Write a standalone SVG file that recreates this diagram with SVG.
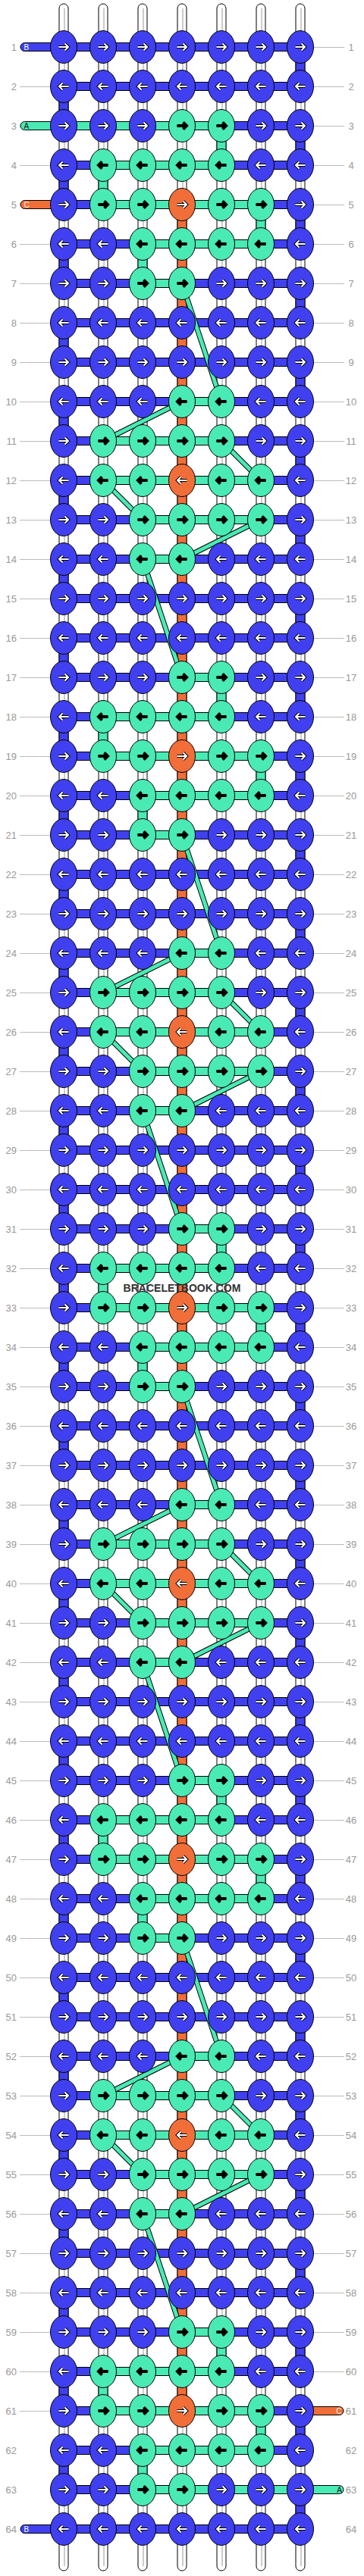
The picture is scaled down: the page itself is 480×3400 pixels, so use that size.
<svg xmlns="http://www.w3.org/2000/svg" width="480" height="3400" viewBox="0 0 480 3400">
<style>
.b{fill:#4040f0;color:#fff}
.t{fill:#4aeab4;color:#000}
.o{fill:#f26e38;color:#fff}
.ln{fill:none;stroke:#bbb;stroke-width:1}
.st{fill:#fff;stroke:#000;stroke-width:1}
.sg{fill:none;stroke:#ccc;stroke-width:2}
.bar{stroke:#000;stroke-width:1}
.ll,.lr{font-family:"Liberation Sans",Arial,sans-serif;font-size:13px;fill:#999}
.ll{text-anchor:end}
.lr{text-anchor:middle}
.pl{font-family:"Liberation Sans",Arial,sans-serif;font-size:10px}
.wm{font-family:"Liberation Sans",Arial,sans-serif;font-size:14px;font-weight:bold;fill:#333}
</style>
<defs>
<g id="R"><ellipse rx="17.5" ry="21.5" stroke="#000" stroke-width="1"/><path d="M-6.5,0H6M1.5,-4.5L6,0L1.5,4.5" fill="none" stroke="#000" stroke-width="4"/><path d="M-6.5,0H6M1.5,-4.5L6,0L1.5,4.5" fill="none" stroke="currentColor" stroke-width="2"/></g>
<g id="L"><ellipse rx="17.5" ry="21.5" stroke="#000" stroke-width="1"/><path d="M6.5,0H-6M-1.5,-4.5L-6,0L-1.5,4.5" fill="none" stroke="#000" stroke-width="4"/><path d="M6.5,0H-6M-1.5,-4.5L-6,0L-1.5,4.5" fill="none" stroke="currentColor" stroke-width="2"/></g>
<path id="D" d="M240,374L292,530M240,530L136,582M292,582L344,634M136,634L188,686M344,686L240,738M188,738L240,894M240,1102L292,1258M240,1258L136,1310M292,1310L344,1362M136,1362L188,1414M344,1414L240,1466M188,1466L240,1622M240,1830L292,1986M240,1986L136,2038M292,2038L344,2090M136,2090L188,2142M344,2142L240,2194M188,2194L240,2350M240,2558L292,2714M240,2714L136,2766M292,2766L344,2818M136,2818L188,2870M344,2870L240,2922M188,2922L240,3078"/>
</defs>
<path class="ln" d="M26,62.5h428m-428,52h428m-428,52h428m-428,52h428m-428,52h428m-428,52h428m-428,52h428m-428,52h428m-428,52h428m-428,52h428m-428,52h428m-428,52h428m-428,52h428m-428,52h428m-428,52h428m-428,52h428m-428,52h428m-428,52h428m-428,52h428m-428,52h428m-428,52h428m-428,52h428m-428,52h428m-428,52h428m-428,52h428m-428,52h428m-428,52h428m-428,52h428m-428,52h428m-428,52h428m-428,52h428m-428,52h428m-428,52h428m-428,52h428m-428,52h428m-428,52h428m-428,52h428m-428,52h428m-428,52h428m-428,52h428m-428,52h428m-428,52h428m-428,52h428m-428,52h428m-428,52h428m-428,52h428m-428,52h428m-428,52h428m-428,52h428m-428,52h428m-428,52h428m-428,52h428m-428,52h428m-428,52h428m-428,52h428m-428,52h428m-428,52h428m-428,52h428m-428,52h428m-428,52h428m-428,52h428"/>
<g id="strands">
<rect class="st" x="78" y="5" width="12" height="3388" rx="6"/>
<rect class="st" x="130" y="5" width="12" height="3388" rx="6"/>
<rect class="st" x="182" y="5" width="12" height="3388" rx="6"/>
<rect class="st" x="234" y="5" width="12" height="3388" rx="6"/>
<rect class="st" x="286" y="5" width="12" height="3388" rx="6"/>
<rect class="st" x="338" y="5" width="12" height="3388" rx="6"/>
<rect class="st" x="390" y="5" width="12" height="3388" rx="6"/>
<path class="sg" d="M85,11V3387M137,11V3387M189,11V3387M241,11V3387M293,11V3387M345,11V3387M397,11V3387"/>
</g>
<g id="connectors">
<path class="bar b" d="M78,128h12v24h-12zm0,104h12v24h-12zm0,104h12v24h-12zm0,104h12v24h-12zm0,104h12v24h-12zm0,104h12v24h-12zm0,104h12v24h-12zm0,104h12v24h-12zm0,104h12v24h-12zm0,104h12v24h-12zm0,104h12v24h-12zm0,104h12v24h-12zm0,104h12v24h-12zm0,104h12v24h-12zm0,104h12v24h-12zm0,104h12v24h-12zm0,104h12v24h-12zm0,104h12v24h-12zm0,104h12v24h-12zm0,104h12v24h-12zm0,104h12v24h-12zm0,104h12v24h-12zm0,104h12v24h-12zm0,104h12v24h-12zm0,104h12v24h-12zm0,104h12v24h-12zm0,104h12v24h-12zm0,104h12v24h-12zm0,104h12v24h-12zm0,104h12v24h-12zm0,104h12v24h-12z"/>
<path class="bar b" d="M390,76h12v24h-12zm0,104h12v24h-12zm0,104h12v24h-12zm0,104h12v24h-12zm0,104h12v24h-12zm0,104h12v24h-12zm0,104h12v24h-12zm0,104h12v24h-12zm0,104h12v24h-12zm0,104h12v24h-12zm0,104h12v24h-12zm0,104h12v24h-12zm0,104h12v24h-12zm0,104h12v24h-12zm0,104h12v24h-12zm0,104h12v24h-12zm0,104h12v24h-12zm0,104h12v24h-12zm0,104h12v24h-12zm0,104h12v24h-12zm0,104h12v24h-12zm0,104h12v24h-12zm0,104h12v24h-12zm0,104h12v24h-12zm0,104h12v24h-12zm0,104h12v24h-12zm0,104h12v24h-12zm0,104h12v24h-12zm0,104h12v24h-12zm0,104h12v24h-12zm0,104h12v24h-12zm0,104h12v24h-12z"/>
<rect class="bar o" x="234" y="270" width="12" height="2912"/>
<path class="bar t" d="M286,180h12v24h-12zM130,232h12v24h-12zM338,284h12v24h-12zM182,336h12v24h-12zM286,908h12v24h-12zM130,960h12v24h-12zM338,1012h12v24h-12zM182,1064h12v24h-12zM286,1636h12v24h-12zM130,1688h12v24h-12zM338,1740h12v24h-12zM182,1792h12v24h-12zM286,2364h12v24h-12zM130,2416h12v24h-12zM338,2468h12v24h-12zM182,2520h12v24h-12zM286,3092h12v24h-12zM130,3144h12v24h-12zM338,3196h12v24h-12zM182,3248h12v24h-12z"/>
<path class="bar b" d="M84,56.5h312v11h-312zm0,52h312v11h-312zm0,52h312v11h-312zm0,52h312v11h-312zm0,52h312v11h-312zm0,52h312v11h-312zm0,52h312v11h-312zm0,52h312v11h-312zm0,52h312v11h-312zm0,52h312v11h-312zm0,52h312v11h-312zm0,52h312v11h-312zm0,52h312v11h-312zm0,52h312v11h-312zm0,52h312v11h-312zm0,52h312v11h-312zm0,52h312v11h-312zm0,52h312v11h-312zm0,52h312v11h-312zm0,52h312v11h-312zm0,52h312v11h-312zm0,52h312v11h-312zm0,52h312v11h-312zm0,52h312v11h-312zm0,52h312v11h-312zm0,52h312v11h-312zm0,52h312v11h-312zm0,52h312v11h-312zm0,52h312v11h-312zm0,52h312v11h-312zm0,52h312v11h-312zm0,52h312v11h-312zm0,52h312v11h-312zm0,52h312v11h-312zm0,52h312v11h-312zm0,52h312v11h-312zm0,52h312v11h-312zm0,52h312v11h-312zm0,52h312v11h-312zm0,52h312v11h-312zm0,52h312v11h-312zm0,52h312v11h-312zm0,52h312v11h-312zm0,52h312v11h-312zm0,52h312v11h-312zm0,52h312v11h-312zm0,52h312v11h-312zm0,52h312v11h-312zm0,52h312v11h-312zm0,52h312v11h-312zm0,52h312v11h-312zm0,52h312v11h-312zm0,52h312v11h-312zm0,52h312v11h-312zm0,52h312v11h-312zm0,52h312v11h-312zm0,52h312v11h-312zm0,52h312v11h-312zm0,52h312v11h-312zm0,52h312v11h-312zm0,52h312v11h-312zm0,52h312v11h-312zm0,52h312v11h-312zm0,52h312v11h-312z"/>
<path class="bar t" d="M84,160.5h208v11h-208zM136,212.5h156v11h-156zM136,264.5h208v11h-208zM188,316.5h156v11h-156zM188,368.5h52v11h-52zM240,524.5h52v11h-52zM136,576.5h156v11h-156zM136,628.5h208v11h-208zM188,680.5h156v11h-156zM188,732.5h52v11h-52zM240,888.5h52v11h-52zM136,940.5h156v11h-156zM136,992.5h208v11h-208zM188,1044.5h156v11h-156zM188,1096.5h52v11h-52zM240,1252.5h52v11h-52zM136,1304.5h156v11h-156zM136,1356.5h208v11h-208zM188,1408.5h156v11h-156zM188,1460.5h52v11h-52zM240,1616.5h52v11h-52zM136,1668.5h156v11h-156zM136,1720.5h208v11h-208zM188,1772.5h156v11h-156zM188,1824.5h52v11h-52zM240,1980.5h52v11h-52zM136,2032.5h156v11h-156zM136,2084.5h208v11h-208zM188,2136.5h156v11h-156zM188,2188.5h52v11h-52zM240,2344.5h52v11h-52zM136,2396.5h156v11h-156zM136,2448.5h208v11h-208zM188,2500.5h156v11h-156zM188,2552.5h52v11h-52zM240,2708.5h52v11h-52zM136,2760.5h156v11h-156zM136,2812.5h208v11h-208zM188,2864.5h156v11h-156zM188,2916.5h52v11h-52zM240,3072.5h52v11h-52zM136,3124.5h156v11h-156zM136,3176.5h208v11h-208zM188,3228.5h156v11h-156zM188,3280.5h208v11h-208z"/>
<rect class="bar b" x="27" y="56.5" width="62" height="11" rx="5.5"/>
<rect class="bar t" x="27" y="160.5" width="62" height="11" rx="5.5"/>
<rect class="bar o" x="27" y="264.5" width="62" height="11" rx="5.5"/>
<rect class="bar b" x="27" y="3332.5" width="62" height="11" rx="5.5"/>
<rect class="bar o" x="391" y="3176.5" width="62" height="11" rx="5.5"/>
<rect class="bar t" x="391" y="3280.5" width="62" height="11" rx="5.5"/>
<use href="#D" fill="none" stroke="#000" stroke-width="7"/>
<use href="#D" fill="none" stroke="#4aeab4" stroke-width="5"/>
</g>
<g id="r1" transform="translate(0,62)"><text class="ll" x="22" y="4.5">1</text><text class="lr" x="463" y="4.5">1</text><g id="n1-1" class="b"><use href="#R" x="84"/></g><g id="n1-2" class="b"><use href="#R" x="136"/></g><g id="n1-3" class="b"><use href="#R" x="188"/></g><g id="n1-4" class="b"><use href="#R" x="240"/></g><g id="n1-5" class="b"><use href="#R" x="292"/></g><g id="n1-6" class="b"><use href="#R" x="344"/></g><g id="n1-7" class="b"><use href="#R" x="396"/></g></g>
<g id="r2" transform="translate(0,114)"><text class="ll" x="22" y="4.5">2</text><text class="lr" x="463" y="4.5">2</text><g id="n2-1" class="b"><use href="#L" x="84"/></g><g id="n2-2" class="b"><use href="#L" x="136"/></g><g id="n2-3" class="b"><use href="#L" x="188"/></g><g id="n2-4" class="b"><use href="#L" x="240"/></g><g id="n2-5" class="b"><use href="#L" x="292"/></g><g id="n2-6" class="b"><use href="#L" x="344"/></g><g id="n2-7" class="b"><use href="#L" x="396"/></g></g>
<g id="r3" transform="translate(0,166)"><text class="ll" x="22" y="4.5">3</text><text class="lr" x="463" y="4.5">3</text><g id="n3-1" class="b"><use href="#R" x="84"/></g><g id="n3-2" class="b"><use href="#R" x="136"/></g><g id="n3-3" class="b"><use href="#R" x="188"/></g><g id="n3-4" class="t"><use href="#R" x="240"/></g><g id="n3-5" class="t"><use href="#R" x="292"/></g><g id="n3-6" class="b"><use href="#R" x="344"/></g><g id="n3-7" class="b"><use href="#R" x="396"/></g></g>
<g id="r4" transform="translate(0,218)"><text class="ll" x="22" y="4.5">4</text><text class="lr" x="463" y="4.5">4</text><g id="n4-1" class="b"><use href="#L" x="84"/></g><g id="n4-2" class="t"><use href="#L" x="136"/></g><g id="n4-3" class="t"><use href="#L" x="188"/></g><g id="n4-4" class="t"><use href="#L" x="240"/></g><g id="n4-5" class="t"><use href="#L" x="292"/></g><g id="n4-6" class="b"><use href="#L" x="344"/></g><g id="n4-7" class="b"><use href="#L" x="396"/></g></g>
<g id="r5" transform="translate(0,270)"><text class="ll" x="22" y="4.5">5</text><text class="lr" x="463" y="4.5">5</text><g id="n5-1" class="b"><use href="#R" x="84"/></g><g id="n5-2" class="t"><use href="#R" x="136"/></g><g id="n5-3" class="t"><use href="#R" x="188"/></g><g id="n5-4" class="o"><use href="#R" x="240"/></g><g id="n5-5" class="t"><use href="#R" x="292"/></g><g id="n5-6" class="t"><use href="#R" x="344"/></g><g id="n5-7" class="b"><use href="#R" x="396"/></g></g>
<g id="r6" transform="translate(0,322)"><text class="ll" x="22" y="4.5">6</text><text class="lr" x="463" y="4.5">6</text><g id="n6-1" class="b"><use href="#L" x="84"/></g><g id="n6-2" class="b"><use href="#L" x="136"/></g><g id="n6-3" class="t"><use href="#L" x="188"/></g><g id="n6-4" class="t"><use href="#L" x="240"/></g><g id="n6-5" class="t"><use href="#L" x="292"/></g><g id="n6-6" class="t"><use href="#L" x="344"/></g><g id="n6-7" class="b"><use href="#L" x="396"/></g></g>
<g id="r7" transform="translate(0,374)"><text class="ll" x="22" y="4.5">7</text><text class="lr" x="463" y="4.5">7</text><g id="n7-1" class="b"><use href="#R" x="84"/></g><g id="n7-2" class="b"><use href="#R" x="136"/></g><g id="n7-3" class="t"><use href="#R" x="188"/></g><g id="n7-4" class="t"><use href="#R" x="240"/></g><g id="n7-5" class="b"><use href="#R" x="292"/></g><g id="n7-6" class="b"><use href="#R" x="344"/></g><g id="n7-7" class="b"><use href="#R" x="396"/></g></g>
<g id="r8" transform="translate(0,426)"><text class="ll" x="22" y="4.5">8</text><text class="lr" x="463" y="4.5">8</text><g id="n8-1" class="b"><use href="#L" x="84"/></g><g id="n8-2" class="b"><use href="#L" x="136"/></g><g id="n8-3" class="b"><use href="#L" x="188"/></g><g id="n8-4" class="b"><use href="#L" x="240"/></g><g id="n8-5" class="b"><use href="#L" x="292"/></g><g id="n8-6" class="b"><use href="#L" x="344"/></g><g id="n8-7" class="b"><use href="#L" x="396"/></g></g>
<g id="r9" transform="translate(0,478)"><text class="ll" x="22" y="4.5">9</text><text class="lr" x="463" y="4.5">9</text><g id="n9-1" class="b"><use href="#R" x="84"/></g><g id="n9-2" class="b"><use href="#R" x="136"/></g><g id="n9-3" class="b"><use href="#R" x="188"/></g><g id="n9-4" class="b"><use href="#R" x="240"/></g><g id="n9-5" class="b"><use href="#R" x="292"/></g><g id="n9-6" class="b"><use href="#R" x="344"/></g><g id="n9-7" class="b"><use href="#R" x="396"/></g></g>
<g id="r10" transform="translate(0,530)"><text class="ll" x="22" y="4.5">10</text><text class="lr" x="463" y="4.5">10</text><g id="n10-1" class="b"><use href="#L" x="84"/></g><g id="n10-2" class="b"><use href="#L" x="136"/></g><g id="n10-3" class="b"><use href="#L" x="188"/></g><g id="n10-4" class="t"><use href="#L" x="240"/></g><g id="n10-5" class="t"><use href="#L" x="292"/></g><g id="n10-6" class="b"><use href="#L" x="344"/></g><g id="n10-7" class="b"><use href="#L" x="396"/></g></g>
<g id="r11" transform="translate(0,582)"><text class="ll" x="22" y="4.5">11</text><text class="lr" x="463" y="4.5">11</text><g id="n11-1" class="b"><use href="#R" x="84"/></g><g id="n11-2" class="t"><use href="#R" x="136"/></g><g id="n11-3" class="t"><use href="#R" x="188"/></g><g id="n11-4" class="t"><use href="#R" x="240"/></g><g id="n11-5" class="t"><use href="#R" x="292"/></g><g id="n11-6" class="b"><use href="#R" x="344"/></g><g id="n11-7" class="b"><use href="#R" x="396"/></g></g>
<g id="r12" transform="translate(0,634)"><text class="ll" x="22" y="4.5">12</text><text class="lr" x="463" y="4.5">12</text><g id="n12-1" class="b"><use href="#L" x="84"/></g><g id="n12-2" class="t"><use href="#L" x="136"/></g><g id="n12-3" class="t"><use href="#L" x="188"/></g><g id="n12-4" class="o"><use href="#L" x="240"/></g><g id="n12-5" class="t"><use href="#L" x="292"/></g><g id="n12-6" class="t"><use href="#L" x="344"/></g><g id="n12-7" class="b"><use href="#L" x="396"/></g></g>
<g id="r13" transform="translate(0,686)"><text class="ll" x="22" y="4.5">13</text><text class="lr" x="463" y="4.5">13</text><g id="n13-1" class="b"><use href="#R" x="84"/></g><g id="n13-2" class="b"><use href="#R" x="136"/></g><g id="n13-3" class="t"><use href="#R" x="188"/></g><g id="n13-4" class="t"><use href="#R" x="240"/></g><g id="n13-5" class="t"><use href="#R" x="292"/></g><g id="n13-6" class="t"><use href="#R" x="344"/></g><g id="n13-7" class="b"><use href="#R" x="396"/></g></g>
<g id="r14" transform="translate(0,738)"><text class="ll" x="22" y="4.5">14</text><text class="lr" x="463" y="4.5">14</text><g id="n14-1" class="b"><use href="#L" x="84"/></g><g id="n14-2" class="b"><use href="#L" x="136"/></g><g id="n14-3" class="t"><use href="#L" x="188"/></g><g id="n14-4" class="t"><use href="#L" x="240"/></g><g id="n14-5" class="b"><use href="#L" x="292"/></g><g id="n14-6" class="b"><use href="#L" x="344"/></g><g id="n14-7" class="b"><use href="#L" x="396"/></g></g>
<g id="r15" transform="translate(0,790)"><text class="ll" x="22" y="4.5">15</text><text class="lr" x="463" y="4.5">15</text><g id="n15-1" class="b"><use href="#R" x="84"/></g><g id="n15-2" class="b"><use href="#R" x="136"/></g><g id="n15-3" class="b"><use href="#R" x="188"/></g><g id="n15-4" class="b"><use href="#R" x="240"/></g><g id="n15-5" class="b"><use href="#R" x="292"/></g><g id="n15-6" class="b"><use href="#R" x="344"/></g><g id="n15-7" class="b"><use href="#R" x="396"/></g></g>
<g id="r16" transform="translate(0,842)"><text class="ll" x="22" y="4.5">16</text><text class="lr" x="463" y="4.5">16</text><g id="n16-1" class="b"><use href="#L" x="84"/></g><g id="n16-2" class="b"><use href="#L" x="136"/></g><g id="n16-3" class="b"><use href="#L" x="188"/></g><g id="n16-4" class="b"><use href="#L" x="240"/></g><g id="n16-5" class="b"><use href="#L" x="292"/></g><g id="n16-6" class="b"><use href="#L" x="344"/></g><g id="n16-7" class="b"><use href="#L" x="396"/></g></g>
<g id="r17" transform="translate(0,894)"><text class="ll" x="22" y="4.5">17</text><text class="lr" x="463" y="4.5">17</text><g id="n17-1" class="b"><use href="#R" x="84"/></g><g id="n17-2" class="b"><use href="#R" x="136"/></g><g id="n17-3" class="b"><use href="#R" x="188"/></g><g id="n17-4" class="t"><use href="#R" x="240"/></g><g id="n17-5" class="t"><use href="#R" x="292"/></g><g id="n17-6" class="b"><use href="#R" x="344"/></g><g id="n17-7" class="b"><use href="#R" x="396"/></g></g>
<g id="r18" transform="translate(0,946)"><text class="ll" x="22" y="4.5">18</text><text class="lr" x="463" y="4.5">18</text><g id="n18-1" class="b"><use href="#L" x="84"/></g><g id="n18-2" class="t"><use href="#L" x="136"/></g><g id="n18-3" class="t"><use href="#L" x="188"/></g><g id="n18-4" class="t"><use href="#L" x="240"/></g><g id="n18-5" class="t"><use href="#L" x="292"/></g><g id="n18-6" class="b"><use href="#L" x="344"/></g><g id="n18-7" class="b"><use href="#L" x="396"/></g></g>
<g id="r19" transform="translate(0,998)"><text class="ll" x="22" y="4.5">19</text><text class="lr" x="463" y="4.5">19</text><g id="n19-1" class="b"><use href="#R" x="84"/></g><g id="n19-2" class="t"><use href="#R" x="136"/></g><g id="n19-3" class="t"><use href="#R" x="188"/></g><g id="n19-4" class="o"><use href="#R" x="240"/></g><g id="n19-5" class="t"><use href="#R" x="292"/></g><g id="n19-6" class="t"><use href="#R" x="344"/></g><g id="n19-7" class="b"><use href="#R" x="396"/></g></g>
<g id="r20" transform="translate(0,1050)"><text class="ll" x="22" y="4.5">20</text><text class="lr" x="463" y="4.5">20</text><g id="n20-1" class="b"><use href="#L" x="84"/></g><g id="n20-2" class="b"><use href="#L" x="136"/></g><g id="n20-3" class="t"><use href="#L" x="188"/></g><g id="n20-4" class="t"><use href="#L" x="240"/></g><g id="n20-5" class="t"><use href="#L" x="292"/></g><g id="n20-6" class="t"><use href="#L" x="344"/></g><g id="n20-7" class="b"><use href="#L" x="396"/></g></g>
<g id="r21" transform="translate(0,1102)"><text class="ll" x="22" y="4.5">21</text><text class="lr" x="463" y="4.5">21</text><g id="n21-1" class="b"><use href="#R" x="84"/></g><g id="n21-2" class="b"><use href="#R" x="136"/></g><g id="n21-3" class="t"><use href="#R" x="188"/></g><g id="n21-4" class="t"><use href="#R" x="240"/></g><g id="n21-5" class="b"><use href="#R" x="292"/></g><g id="n21-6" class="b"><use href="#R" x="344"/></g><g id="n21-7" class="b"><use href="#R" x="396"/></g></g>
<g id="r22" transform="translate(0,1154)"><text class="ll" x="22" y="4.5">22</text><text class="lr" x="463" y="4.5">22</text><g id="n22-1" class="b"><use href="#L" x="84"/></g><g id="n22-2" class="b"><use href="#L" x="136"/></g><g id="n22-3" class="b"><use href="#L" x="188"/></g><g id="n22-4" class="b"><use href="#L" x="240"/></g><g id="n22-5" class="b"><use href="#L" x="292"/></g><g id="n22-6" class="b"><use href="#L" x="344"/></g><g id="n22-7" class="b"><use href="#L" x="396"/></g></g>
<g id="r23" transform="translate(0,1206)"><text class="ll" x="22" y="4.5">23</text><text class="lr" x="463" y="4.5">23</text><g id="n23-1" class="b"><use href="#R" x="84"/></g><g id="n23-2" class="b"><use href="#R" x="136"/></g><g id="n23-3" class="b"><use href="#R" x="188"/></g><g id="n23-4" class="b"><use href="#R" x="240"/></g><g id="n23-5" class="b"><use href="#R" x="292"/></g><g id="n23-6" class="b"><use href="#R" x="344"/></g><g id="n23-7" class="b"><use href="#R" x="396"/></g></g>
<g id="r24" transform="translate(0,1258)"><text class="ll" x="22" y="4.5">24</text><text class="lr" x="463" y="4.5">24</text><g id="n24-1" class="b"><use href="#L" x="84"/></g><g id="n24-2" class="b"><use href="#L" x="136"/></g><g id="n24-3" class="b"><use href="#L" x="188"/></g><g id="n24-4" class="t"><use href="#L" x="240"/></g><g id="n24-5" class="t"><use href="#L" x="292"/></g><g id="n24-6" class="b"><use href="#L" x="344"/></g><g id="n24-7" class="b"><use href="#L" x="396"/></g></g>
<g id="r25" transform="translate(0,1310)"><text class="ll" x="22" y="4.5">25</text><text class="lr" x="463" y="4.5">25</text><g id="n25-1" class="b"><use href="#R" x="84"/></g><g id="n25-2" class="t"><use href="#R" x="136"/></g><g id="n25-3" class="t"><use href="#R" x="188"/></g><g id="n25-4" class="t"><use href="#R" x="240"/></g><g id="n25-5" class="t"><use href="#R" x="292"/></g><g id="n25-6" class="b"><use href="#R" x="344"/></g><g id="n25-7" class="b"><use href="#R" x="396"/></g></g>
<g id="r26" transform="translate(0,1362)"><text class="ll" x="22" y="4.5">26</text><text class="lr" x="463" y="4.5">26</text><g id="n26-1" class="b"><use href="#L" x="84"/></g><g id="n26-2" class="t"><use href="#L" x="136"/></g><g id="n26-3" class="t"><use href="#L" x="188"/></g><g id="n26-4" class="o"><use href="#L" x="240"/></g><g id="n26-5" class="t"><use href="#L" x="292"/></g><g id="n26-6" class="t"><use href="#L" x="344"/></g><g id="n26-7" class="b"><use href="#L" x="396"/></g></g>
<g id="r27" transform="translate(0,1414)"><text class="ll" x="22" y="4.5">27</text><text class="lr" x="463" y="4.5">27</text><g id="n27-1" class="b"><use href="#R" x="84"/></g><g id="n27-2" class="b"><use href="#R" x="136"/></g><g id="n27-3" class="t"><use href="#R" x="188"/></g><g id="n27-4" class="t"><use href="#R" x="240"/></g><g id="n27-5" class="t"><use href="#R" x="292"/></g><g id="n27-6" class="t"><use href="#R" x="344"/></g><g id="n27-7" class="b"><use href="#R" x="396"/></g></g>
<g id="r28" transform="translate(0,1466)"><text class="ll" x="22" y="4.5">28</text><text class="lr" x="463" y="4.5">28</text><g id="n28-1" class="b"><use href="#L" x="84"/></g><g id="n28-2" class="b"><use href="#L" x="136"/></g><g id="n28-3" class="t"><use href="#L" x="188"/></g><g id="n28-4" class="t"><use href="#L" x="240"/></g><g id="n28-5" class="b"><use href="#L" x="292"/></g><g id="n28-6" class="b"><use href="#L" x="344"/></g><g id="n28-7" class="b"><use href="#L" x="396"/></g></g>
<g id="r29" transform="translate(0,1518)"><text class="ll" x="22" y="4.5">29</text><text class="lr" x="463" y="4.5">29</text><g id="n29-1" class="b"><use href="#R" x="84"/></g><g id="n29-2" class="b"><use href="#R" x="136"/></g><g id="n29-3" class="b"><use href="#R" x="188"/></g><g id="n29-4" class="b"><use href="#R" x="240"/></g><g id="n29-5" class="b"><use href="#R" x="292"/></g><g id="n29-6" class="b"><use href="#R" x="344"/></g><g id="n29-7" class="b"><use href="#R" x="396"/></g></g>
<g id="r30" transform="translate(0,1570)"><text class="ll" x="22" y="4.5">30</text><text class="lr" x="463" y="4.5">30</text><g id="n30-1" class="b"><use href="#L" x="84"/></g><g id="n30-2" class="b"><use href="#L" x="136"/></g><g id="n30-3" class="b"><use href="#L" x="188"/></g><g id="n30-4" class="b"><use href="#L" x="240"/></g><g id="n30-5" class="b"><use href="#L" x="292"/></g><g id="n30-6" class="b"><use href="#L" x="344"/></g><g id="n30-7" class="b"><use href="#L" x="396"/></g></g>
<g id="r31" transform="translate(0,1622)"><text class="ll" x="22" y="4.5">31</text><text class="lr" x="463" y="4.5">31</text><g id="n31-1" class="b"><use href="#R" x="84"/></g><g id="n31-2" class="b"><use href="#R" x="136"/></g><g id="n31-3" class="b"><use href="#R" x="188"/></g><g id="n31-4" class="t"><use href="#R" x="240"/></g><g id="n31-5" class="t"><use href="#R" x="292"/></g><g id="n31-6" class="b"><use href="#R" x="344"/></g><g id="n31-7" class="b"><use href="#R" x="396"/></g></g>
<g id="r32" transform="translate(0,1674)"><text class="ll" x="22" y="4.5">32</text><text class="lr" x="463" y="4.5">32</text><g id="n32-1" class="b"><use href="#L" x="84"/></g><g id="n32-2" class="t"><use href="#L" x="136"/></g><g id="n32-3" class="t"><use href="#L" x="188"/></g><g id="n32-4" class="t"><use href="#L" x="240"/></g><g id="n32-5" class="t"><use href="#L" x="292"/></g><g id="n32-6" class="b"><use href="#L" x="344"/></g><g id="n32-7" class="b"><use href="#L" x="396"/></g></g>
<g id="r33" transform="translate(0,1726)"><text class="ll" x="22" y="4.5">33</text><text class="lr" x="463" y="4.5">33</text><g id="n33-1" class="b"><use href="#R" x="84"/></g><g id="n33-2" class="t"><use href="#R" x="136"/></g><g id="n33-3" class="t"><use href="#R" x="188"/></g><g id="n33-4" class="o"><use href="#R" x="240"/></g><g id="n33-5" class="t"><use href="#R" x="292"/></g><g id="n33-6" class="t"><use href="#R" x="344"/></g><g id="n33-7" class="b"><use href="#R" x="396"/></g></g>
<g id="r34" transform="translate(0,1778)"><text class="ll" x="22" y="4.5">34</text><text class="lr" x="463" y="4.5">34</text><g id="n34-1" class="b"><use href="#L" x="84"/></g><g id="n34-2" class="b"><use href="#L" x="136"/></g><g id="n34-3" class="t"><use href="#L" x="188"/></g><g id="n34-4" class="t"><use href="#L" x="240"/></g><g id="n34-5" class="t"><use href="#L" x="292"/></g><g id="n34-6" class="t"><use href="#L" x="344"/></g><g id="n34-7" class="b"><use href="#L" x="396"/></g></g>
<g id="r35" transform="translate(0,1830)"><text class="ll" x="22" y="4.5">35</text><text class="lr" x="463" y="4.5">35</text><g id="n35-1" class="b"><use href="#R" x="84"/></g><g id="n35-2" class="b"><use href="#R" x="136"/></g><g id="n35-3" class="t"><use href="#R" x="188"/></g><g id="n35-4" class="t"><use href="#R" x="240"/></g><g id="n35-5" class="b"><use href="#R" x="292"/></g><g id="n35-6" class="b"><use href="#R" x="344"/></g><g id="n35-7" class="b"><use href="#R" x="396"/></g></g>
<g id="r36" transform="translate(0,1882)"><text class="ll" x="22" y="4.5">36</text><text class="lr" x="463" y="4.5">36</text><g id="n36-1" class="b"><use href="#L" x="84"/></g><g id="n36-2" class="b"><use href="#L" x="136"/></g><g id="n36-3" class="b"><use href="#L" x="188"/></g><g id="n36-4" class="b"><use href="#L" x="240"/></g><g id="n36-5" class="b"><use href="#L" x="292"/></g><g id="n36-6" class="b"><use href="#L" x="344"/></g><g id="n36-7" class="b"><use href="#L" x="396"/></g></g>
<g id="r37" transform="translate(0,1934)"><text class="ll" x="22" y="4.5">37</text><text class="lr" x="463" y="4.5">37</text><g id="n37-1" class="b"><use href="#R" x="84"/></g><g id="n37-2" class="b"><use href="#R" x="136"/></g><g id="n37-3" class="b"><use href="#R" x="188"/></g><g id="n37-4" class="b"><use href="#R" x="240"/></g><g id="n37-5" class="b"><use href="#R" x="292"/></g><g id="n37-6" class="b"><use href="#R" x="344"/></g><g id="n37-7" class="b"><use href="#R" x="396"/></g></g>
<g id="r38" transform="translate(0,1986)"><text class="ll" x="22" y="4.5">38</text><text class="lr" x="463" y="4.5">38</text><g id="n38-1" class="b"><use href="#L" x="84"/></g><g id="n38-2" class="b"><use href="#L" x="136"/></g><g id="n38-3" class="b"><use href="#L" x="188"/></g><g id="n38-4" class="t"><use href="#L" x="240"/></g><g id="n38-5" class="t"><use href="#L" x="292"/></g><g id="n38-6" class="b"><use href="#L" x="344"/></g><g id="n38-7" class="b"><use href="#L" x="396"/></g></g>
<g id="r39" transform="translate(0,2038)"><text class="ll" x="22" y="4.5">39</text><text class="lr" x="463" y="4.5">39</text><g id="n39-1" class="b"><use href="#R" x="84"/></g><g id="n39-2" class="t"><use href="#R" x="136"/></g><g id="n39-3" class="t"><use href="#R" x="188"/></g><g id="n39-4" class="t"><use href="#R" x="240"/></g><g id="n39-5" class="t"><use href="#R" x="292"/></g><g id="n39-6" class="b"><use href="#R" x="344"/></g><g id="n39-7" class="b"><use href="#R" x="396"/></g></g>
<g id="r40" transform="translate(0,2090)"><text class="ll" x="22" y="4.5">40</text><text class="lr" x="463" y="4.5">40</text><g id="n40-1" class="b"><use href="#L" x="84"/></g><g id="n40-2" class="t"><use href="#L" x="136"/></g><g id="n40-3" class="t"><use href="#L" x="188"/></g><g id="n40-4" class="o"><use href="#L" x="240"/></g><g id="n40-5" class="t"><use href="#L" x="292"/></g><g id="n40-6" class="t"><use href="#L" x="344"/></g><g id="n40-7" class="b"><use href="#L" x="396"/></g></g>
<g id="r41" transform="translate(0,2142)"><text class="ll" x="22" y="4.5">41</text><text class="lr" x="463" y="4.5">41</text><g id="n41-1" class="b"><use href="#R" x="84"/></g><g id="n41-2" class="b"><use href="#R" x="136"/></g><g id="n41-3" class="t"><use href="#R" x="188"/></g><g id="n41-4" class="t"><use href="#R" x="240"/></g><g id="n41-5" class="t"><use href="#R" x="292"/></g><g id="n41-6" class="t"><use href="#R" x="344"/></g><g id="n41-7" class="b"><use href="#R" x="396"/></g></g>
<g id="r42" transform="translate(0,2194)"><text class="ll" x="22" y="4.5">42</text><text class="lr" x="463" y="4.5">42</text><g id="n42-1" class="b"><use href="#L" x="84"/></g><g id="n42-2" class="b"><use href="#L" x="136"/></g><g id="n42-3" class="t"><use href="#L" x="188"/></g><g id="n42-4" class="t"><use href="#L" x="240"/></g><g id="n42-5" class="b"><use href="#L" x="292"/></g><g id="n42-6" class="b"><use href="#L" x="344"/></g><g id="n42-7" class="b"><use href="#L" x="396"/></g></g>
<g id="r43" transform="translate(0,2246)"><text class="ll" x="22" y="4.5">43</text><text class="lr" x="463" y="4.5">43</text><g id="n43-1" class="b"><use href="#R" x="84"/></g><g id="n43-2" class="b"><use href="#R" x="136"/></g><g id="n43-3" class="b"><use href="#R" x="188"/></g><g id="n43-4" class="b"><use href="#R" x="240"/></g><g id="n43-5" class="b"><use href="#R" x="292"/></g><g id="n43-6" class="b"><use href="#R" x="344"/></g><g id="n43-7" class="b"><use href="#R" x="396"/></g></g>
<g id="r44" transform="translate(0,2298)"><text class="ll" x="22" y="4.5">44</text><text class="lr" x="463" y="4.5">44</text><g id="n44-1" class="b"><use href="#L" x="84"/></g><g id="n44-2" class="b"><use href="#L" x="136"/></g><g id="n44-3" class="b"><use href="#L" x="188"/></g><g id="n44-4" class="b"><use href="#L" x="240"/></g><g id="n44-5" class="b"><use href="#L" x="292"/></g><g id="n44-6" class="b"><use href="#L" x="344"/></g><g id="n44-7" class="b"><use href="#L" x="396"/></g></g>
<g id="r45" transform="translate(0,2350)"><text class="ll" x="22" y="4.5">45</text><text class="lr" x="463" y="4.5">45</text><g id="n45-1" class="b"><use href="#R" x="84"/></g><g id="n45-2" class="b"><use href="#R" x="136"/></g><g id="n45-3" class="b"><use href="#R" x="188"/></g><g id="n45-4" class="t"><use href="#R" x="240"/></g><g id="n45-5" class="t"><use href="#R" x="292"/></g><g id="n45-6" class="b"><use href="#R" x="344"/></g><g id="n45-7" class="b"><use href="#R" x="396"/></g></g>
<g id="r46" transform="translate(0,2402)"><text class="ll" x="22" y="4.5">46</text><text class="lr" x="463" y="4.5">46</text><g id="n46-1" class="b"><use href="#L" x="84"/></g><g id="n46-2" class="t"><use href="#L" x="136"/></g><g id="n46-3" class="t"><use href="#L" x="188"/></g><g id="n46-4" class="t"><use href="#L" x="240"/></g><g id="n46-5" class="t"><use href="#L" x="292"/></g><g id="n46-6" class="b"><use href="#L" x="344"/></g><g id="n46-7" class="b"><use href="#L" x="396"/></g></g>
<g id="r47" transform="translate(0,2454)"><text class="ll" x="22" y="4.5">47</text><text class="lr" x="463" y="4.5">47</text><g id="n47-1" class="b"><use href="#R" x="84"/></g><g id="n47-2" class="t"><use href="#R" x="136"/></g><g id="n47-3" class="t"><use href="#R" x="188"/></g><g id="n47-4" class="o"><use href="#R" x="240"/></g><g id="n47-5" class="t"><use href="#R" x="292"/></g><g id="n47-6" class="t"><use href="#R" x="344"/></g><g id="n47-7" class="b"><use href="#R" x="396"/></g></g>
<g id="r48" transform="translate(0,2506)"><text class="ll" x="22" y="4.5">48</text><text class="lr" x="463" y="4.5">48</text><g id="n48-1" class="b"><use href="#L" x="84"/></g><g id="n48-2" class="b"><use href="#L" x="136"/></g><g id="n48-3" class="t"><use href="#L" x="188"/></g><g id="n48-4" class="t"><use href="#L" x="240"/></g><g id="n48-5" class="t"><use href="#L" x="292"/></g><g id="n48-6" class="t"><use href="#L" x="344"/></g><g id="n48-7" class="b"><use href="#L" x="396"/></g></g>
<g id="r49" transform="translate(0,2558)"><text class="ll" x="22" y="4.5">49</text><text class="lr" x="463" y="4.5">49</text><g id="n49-1" class="b"><use href="#R" x="84"/></g><g id="n49-2" class="b"><use href="#R" x="136"/></g><g id="n49-3" class="t"><use href="#R" x="188"/></g><g id="n49-4" class="t"><use href="#R" x="240"/></g><g id="n49-5" class="b"><use href="#R" x="292"/></g><g id="n49-6" class="b"><use href="#R" x="344"/></g><g id="n49-7" class="b"><use href="#R" x="396"/></g></g>
<g id="r50" transform="translate(0,2610)"><text class="ll" x="22" y="4.5">50</text><text class="lr" x="463" y="4.5">50</text><g id="n50-1" class="b"><use href="#L" x="84"/></g><g id="n50-2" class="b"><use href="#L" x="136"/></g><g id="n50-3" class="b"><use href="#L" x="188"/></g><g id="n50-4" class="b"><use href="#L" x="240"/></g><g id="n50-5" class="b"><use href="#L" x="292"/></g><g id="n50-6" class="b"><use href="#L" x="344"/></g><g id="n50-7" class="b"><use href="#L" x="396"/></g></g>
<g id="r51" transform="translate(0,2662)"><text class="ll" x="22" y="4.5">51</text><text class="lr" x="463" y="4.5">51</text><g id="n51-1" class="b"><use href="#R" x="84"/></g><g id="n51-2" class="b"><use href="#R" x="136"/></g><g id="n51-3" class="b"><use href="#R" x="188"/></g><g id="n51-4" class="b"><use href="#R" x="240"/></g><g id="n51-5" class="b"><use href="#R" x="292"/></g><g id="n51-6" class="b"><use href="#R" x="344"/></g><g id="n51-7" class="b"><use href="#R" x="396"/></g></g>
<g id="r52" transform="translate(0,2714)"><text class="ll" x="22" y="4.5">52</text><text class="lr" x="463" y="4.5">52</text><g id="n52-1" class="b"><use href="#L" x="84"/></g><g id="n52-2" class="b"><use href="#L" x="136"/></g><g id="n52-3" class="b"><use href="#L" x="188"/></g><g id="n52-4" class="t"><use href="#L" x="240"/></g><g id="n52-5" class="t"><use href="#L" x="292"/></g><g id="n52-6" class="b"><use href="#L" x="344"/></g><g id="n52-7" class="b"><use href="#L" x="396"/></g></g>
<g id="r53" transform="translate(0,2766)"><text class="ll" x="22" y="4.5">53</text><text class="lr" x="463" y="4.5">53</text><g id="n53-1" class="b"><use href="#R" x="84"/></g><g id="n53-2" class="t"><use href="#R" x="136"/></g><g id="n53-3" class="t"><use href="#R" x="188"/></g><g id="n53-4" class="t"><use href="#R" x="240"/></g><g id="n53-5" class="t"><use href="#R" x="292"/></g><g id="n53-6" class="b"><use href="#R" x="344"/></g><g id="n53-7" class="b"><use href="#R" x="396"/></g></g>
<g id="r54" transform="translate(0,2818)"><text class="ll" x="22" y="4.5">54</text><text class="lr" x="463" y="4.5">54</text><g id="n54-1" class="b"><use href="#L" x="84"/></g><g id="n54-2" class="t"><use href="#L" x="136"/></g><g id="n54-3" class="t"><use href="#L" x="188"/></g><g id="n54-4" class="o"><use href="#L" x="240"/></g><g id="n54-5" class="t"><use href="#L" x="292"/></g><g id="n54-6" class="t"><use href="#L" x="344"/></g><g id="n54-7" class="b"><use href="#L" x="396"/></g></g>
<g id="r55" transform="translate(0,2870)"><text class="ll" x="22" y="4.5">55</text><text class="lr" x="463" y="4.5">55</text><g id="n55-1" class="b"><use href="#R" x="84"/></g><g id="n55-2" class="b"><use href="#R" x="136"/></g><g id="n55-3" class="t"><use href="#R" x="188"/></g><g id="n55-4" class="t"><use href="#R" x="240"/></g><g id="n55-5" class="t"><use href="#R" x="292"/></g><g id="n55-6" class="t"><use href="#R" x="344"/></g><g id="n55-7" class="b"><use href="#R" x="396"/></g></g>
<g id="r56" transform="translate(0,2922)"><text class="ll" x="22" y="4.5">56</text><text class="lr" x="463" y="4.5">56</text><g id="n56-1" class="b"><use href="#L" x="84"/></g><g id="n56-2" class="b"><use href="#L" x="136"/></g><g id="n56-3" class="t"><use href="#L" x="188"/></g><g id="n56-4" class="t"><use href="#L" x="240"/></g><g id="n56-5" class="b"><use href="#L" x="292"/></g><g id="n56-6" class="b"><use href="#L" x="344"/></g><g id="n56-7" class="b"><use href="#L" x="396"/></g></g>
<g id="r57" transform="translate(0,2974)"><text class="ll" x="22" y="4.5">57</text><text class="lr" x="463" y="4.5">57</text><g id="n57-1" class="b"><use href="#R" x="84"/></g><g id="n57-2" class="b"><use href="#R" x="136"/></g><g id="n57-3" class="b"><use href="#R" x="188"/></g><g id="n57-4" class="b"><use href="#R" x="240"/></g><g id="n57-5" class="b"><use href="#R" x="292"/></g><g id="n57-6" class="b"><use href="#R" x="344"/></g><g id="n57-7" class="b"><use href="#R" x="396"/></g></g>
<g id="r58" transform="translate(0,3026)"><text class="ll" x="22" y="4.5">58</text><text class="lr" x="463" y="4.5">58</text><g id="n58-1" class="b"><use href="#L" x="84"/></g><g id="n58-2" class="b"><use href="#L" x="136"/></g><g id="n58-3" class="b"><use href="#L" x="188"/></g><g id="n58-4" class="b"><use href="#L" x="240"/></g><g id="n58-5" class="b"><use href="#L" x="292"/></g><g id="n58-6" class="b"><use href="#L" x="344"/></g><g id="n58-7" class="b"><use href="#L" x="396"/></g></g>
<g id="r59" transform="translate(0,3078)"><text class="ll" x="22" y="4.5">59</text><text class="lr" x="463" y="4.5">59</text><g id="n59-1" class="b"><use href="#R" x="84"/></g><g id="n59-2" class="b"><use href="#R" x="136"/></g><g id="n59-3" class="b"><use href="#R" x="188"/></g><g id="n59-4" class="t"><use href="#R" x="240"/></g><g id="n59-5" class="t"><use href="#R" x="292"/></g><g id="n59-6" class="b"><use href="#R" x="344"/></g><g id="n59-7" class="b"><use href="#R" x="396"/></g></g>
<g id="r60" transform="translate(0,3130)"><text class="ll" x="22" y="4.5">60</text><text class="lr" x="463" y="4.5">60</text><g id="n60-1" class="b"><use href="#L" x="84"/></g><g id="n60-2" class="t"><use href="#L" x="136"/></g><g id="n60-3" class="t"><use href="#L" x="188"/></g><g id="n60-4" class="t"><use href="#L" x="240"/></g><g id="n60-5" class="t"><use href="#L" x="292"/></g><g id="n60-6" class="b"><use href="#L" x="344"/></g><g id="n60-7" class="b"><use href="#L" x="396"/></g></g>
<g id="r61" transform="translate(0,3182)"><text class="ll" x="22" y="4.5">61</text><text class="lr" x="463" y="4.5">61</text><g id="n61-1" class="b"><use href="#R" x="84"/></g><g id="n61-2" class="t"><use href="#R" x="136"/></g><g id="n61-3" class="t"><use href="#R" x="188"/></g><g id="n61-4" class="o"><use href="#R" x="240"/></g><g id="n61-5" class="t"><use href="#R" x="292"/></g><g id="n61-6" class="t"><use href="#R" x="344"/></g><g id="n61-7" class="b"><use href="#R" x="396"/></g></g>
<g id="r62" transform="translate(0,3234)"><text class="ll" x="22" y="4.5">62</text><text class="lr" x="463" y="4.5">62</text><g id="n62-1" class="b"><use href="#L" x="84"/></g><g id="n62-2" class="b"><use href="#L" x="136"/></g><g id="n62-3" class="t"><use href="#L" x="188"/></g><g id="n62-4" class="t"><use href="#L" x="240"/></g><g id="n62-5" class="t"><use href="#L" x="292"/></g><g id="n62-6" class="t"><use href="#L" x="344"/></g><g id="n62-7" class="b"><use href="#L" x="396"/></g></g>
<g id="r63" transform="translate(0,3286)"><text class="ll" x="22" y="4.5">63</text><text class="lr" x="463" y="4.5">63</text><g id="n63-1" class="b"><use href="#R" x="84"/></g><g id="n63-2" class="b"><use href="#R" x="136"/></g><g id="n63-3" class="t"><use href="#R" x="188"/></g><g id="n63-4" class="t"><use href="#R" x="240"/></g><g id="n63-5" class="b"><use href="#R" x="292"/></g><g id="n63-6" class="b"><use href="#R" x="344"/></g><g id="n63-7" class="b"><use href="#R" x="396"/></g></g>
<g id="r64" transform="translate(0,3338)"><text class="ll" x="22" y="4.5">64</text><text class="lr" x="463" y="4.5">64</text><g id="n64-1" class="b"><use href="#L" x="84"/></g><g id="n64-2" class="b"><use href="#L" x="136"/></g><g id="n64-3" class="b"><use href="#L" x="188"/></g><g id="n64-4" class="b"><use href="#L" x="240"/></g><g id="n64-5" class="b"><use href="#L" x="292"/></g><g id="n64-6" class="b"><use href="#L" x="344"/></g><g id="n64-7" class="b"><use href="#L" x="396"/></g></g>
<g id="thread-labels" class="pl">
<text x="31.5" y="65.6" fill="#fff">B</text>
<text x="31.5" y="169.6" fill="#111">A</text>
<text x="31.5" y="273.6" fill="#fff">C</text>
<text x="31.5" y="3341.6" fill="#fff">B</text>
<text x="450.5" y="3185.6" fill="#fff" text-anchor="end">C</text>
<text x="451" y="3289.6" fill="#111" text-anchor="end">A</text>
</g>
<text class="wm" x="240" y="1705" text-anchor="middle">BRACELETBOOK.COM</text>
</svg>
